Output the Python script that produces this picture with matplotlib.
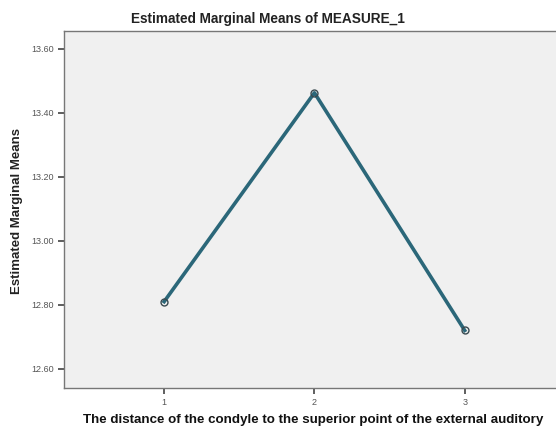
import numpy as np
import matplotlib
matplotlib.use('Agg')
import matplotlib.pyplot as plt

# data
levels = [1, 2, 3]
means = [12.81, 13.463, 12.72]
yticks = [12.60, 12.80, 13.00, 13.20, 13.40, 13.60]

plt.rcParams['font.family'] = ['Liberation Sans', 'DejaVu Sans']

fig = plt.figure(figsize=(5.56, 4.30), dpi=100)
ax = fig.add_axes([0.115, 0.0977, 0.901, 0.83])
ax.set_facecolor('#f0f0f0')

ax.plot(levels, means, color='#2b6779', lw=2.6, marker='o', ms=5,
        mfc='none', mec='#3a4a50', mew=1.0)

ax.set_xlim(1/3, 11/3)
ax.set_ylim(12.54, 13.656)
ax.set_xticks(levels)
ax.set_xticklabels([str(v) for v in levels])
ax.set_yticks(yticks)
ax.set_yticklabels([f'{v:.2f}' for v in yticks])
ax.tick_params(axis='both', direction='out', length=4, width=1.1, color='#333333',
               labelsize=6.5, labelcolor='#555555')
for s in ax.spines.values():
    s.set_color('#777777')
    s.set_linewidth(1.0)

fig.text(0.482, 0.955, 'Estimated Marginal Means of MEASURE_1', ha='center', va='center',
         fontsize=9.8, fontweight='bold', color='#222222')
fig.text(0.03, 0.509, 'Estimated Marginal Means', ha='center', va='center', rotation=90,
         fontsize=9.5, fontweight='bold', color='#222222')
fig.text(0.564, 0.023, 'The distance of the condyle to the superior point of the external auditory',
         ha='center', va='center', fontsize=9.6, fontweight='bold', color='#111111')

fig.savefig('out.png', dpi=100)
